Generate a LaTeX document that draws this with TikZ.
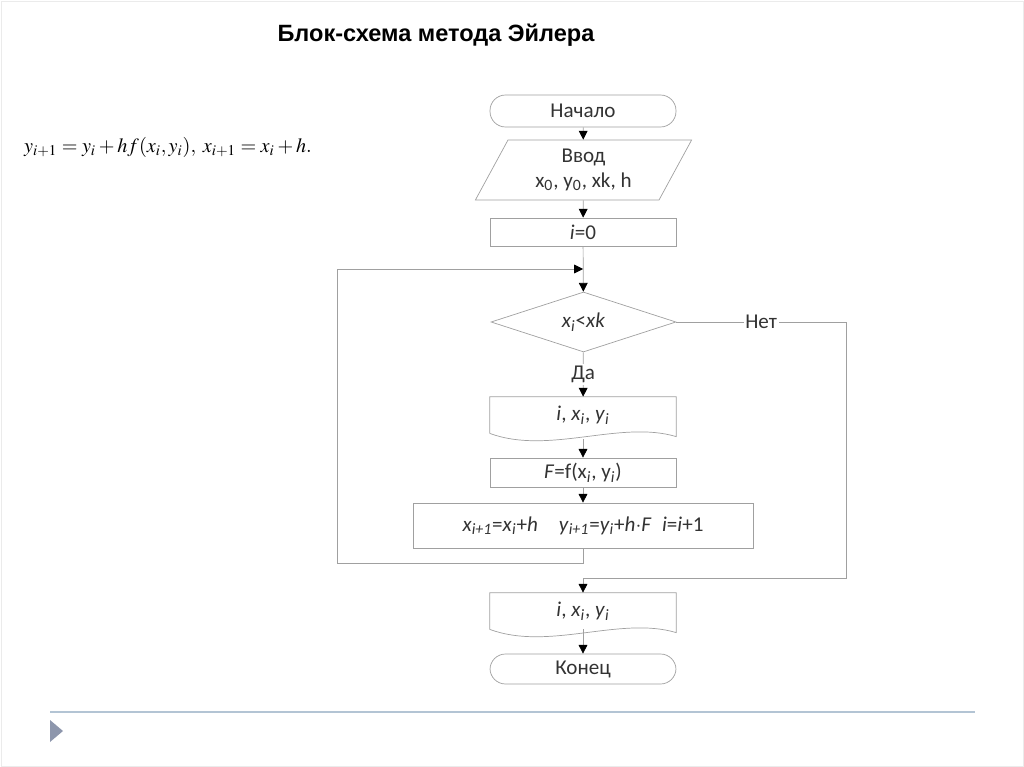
\documentclass[tikz,border=0pt]{standalone}
\usepackage{mathptmx}
\usepackage{fontspec}
\setmainfont{Carlito}
\newfontfamily\titlefont{Liberation Sans}
\usetikzlibrary{shapes.geometric,arrows.meta}

\definecolor{linegray}{HTML}{A0A0A0}
\definecolor{txtgray}{HTML}{333333}
\definecolor{slideblue}{HTML}{B3C4D4}

\newcommand\xind[1]{\textit{x}\textsubscript{\textit{#1}}}
\newcommand\yind[1]{\textit{y}\textsubscript{\textit{#1}}}

\tikzset{
  block/.style={draw=linegray, text=txtgray, rectangle, minimum width=3.72cm, inner sep=0pt, font=\fontsize{12}{14}\selectfont},
  term/.style={block, rounded corners=0.31cm},
  io/.style={block, trapezium, trapezium left angle=63.4, trapezium right angle=116.6, trapezium stretches=true, minimum width=4.34cm, minimum height=1.2cm, align=center},
  cond/.style={block, diamond, aspect=3, minimum width=3.7cm, minimum height=1.2cm},
  doc/.style={block, draw=none},
  flow/.style={draw=linegray, -{Triangle[width=5pt,length=5pt,color=black]}},
  tag/.style={fill=white, text=txtgray, inner sep=1pt, font=\fontsize{12}{14}\selectfont}
}

\begin{document}
\begin{tikzpicture}[x=0.02cm, y=-0.02cm]
 \useasboundingbox (0,0) rectangle (1024,767);
 \draw[black!8] (1,1) rectangle (1023,766);

 \node (title) at (436,35) {\titlefont\bfseries\fontsize{13.4}{16}\selectfont Блок-схема метода Эйлера};
 \node (formula) at (168,147) {\fontsize{11.5}{14}\selectfont $y_{i+1}=y_i+hf(x_i,y_i),\ x_{i+1}=x_i+h.$};

 % flowchart blocks
 \node[term, minimum height=0.64cm] (start) at (583,111) {Начало};
 \node[io] (input) at (583.5,170) {Ввод\\x\textsubscript{0}, y\textsubscript{0}, xk, h};
 \node[block, minimum height=0.56cm] (init) at (583,232) {\textit{i}=0};
 \coordinate (join) at (583,269);
 \node[cond] (check) at (583.5,322) {\xind{i}<\textit{xk}};
 \node[doc, minimum height=0.72cm] (out1) at (583,415) {\textit{i}, \xind{i}, \yind{i}};
 \node[block, minimum height=0.58cm] (calc) at (583,472.5) {\textit{F}=f(x\textsubscript{\textit{i}}, y\textsubscript{\textit{i}})};
 \node[block, minimum width=6.8cm, minimum height=0.9cm] (step) at (583,525.5)
  {\xind{i+1}=\xind{i}+\textit{h}\quad \yind{i+1}=\yind{i}+\textit{h}$\cdot$\textit{F}\enspace \textit{i}=\textit{i}+1};
 \node[doc, minimum height=0.72cm] (out2) at (583,611) {\textit{i}, \xind{i}, \yind{i}};
 \node[term, minimum height=0.6cm] (finish) at (583,669) {Конец};
 \coordinate (back) at (337,563);
 \coordinate (exit) at (846,578);

 % document shapes
 \foreach \d in {out1,out2}
  \draw[linegray] (\d.south west) -- (\d.north west) -- (\d.north east) -- ++(0,40)
   .. controls +(-56,-17) and +(59,22) .. (\d.south west);

 % connectors
 \draw[flow] (start) -- (input);
 \draw[flow] (input) -- (init);
 \draw[flow] (init) -- (check);
 \draw[flow] (check) -- node[tag] {Да} (out1);
 \draw[flow, shorten <=0.12cm] (out1.south) -- (calc);
 \draw[flow] (calc) -- (step);
 \draw[flow] (step.south) |- (back) |- (join);
 \draw[flow] (check.east) -| node[tag, pos=0.25] {Нет} (exit) -| (out2.north);
 \draw[flow] (out2) -- (finish);

 % slide decoration
 \draw[slideblue, line width=1.2pt] (50,712) -- (975,712);
 \fill[slideblue!90!blue!70!black!80] (50,720) -- (63,731) -- (50,742) -- cycle;
\end{tikzpicture}
\end{document}
